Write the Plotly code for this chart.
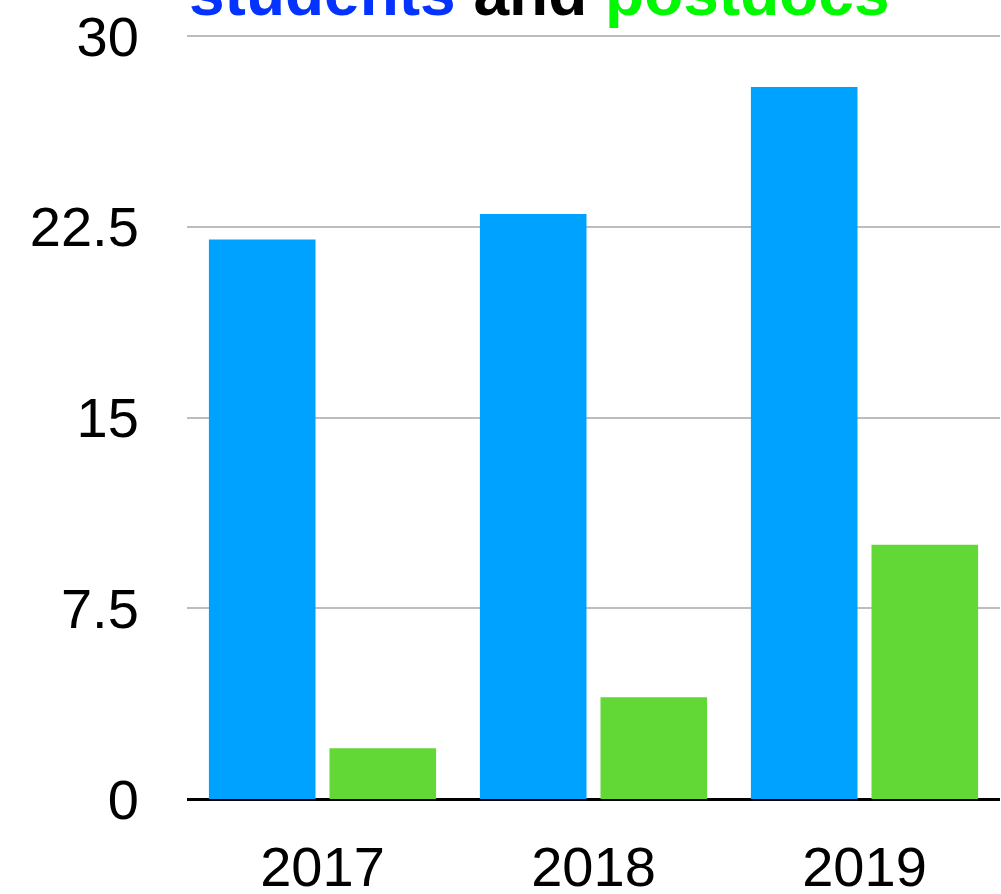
import plotly.graph_objects as go

years = ["2017", "2018", "2019"]
students = [22, 23, 28]
postdocs = [2, 4, 10]
y_tickvals = [0, 7.5, 15, 22.5, 30]
y_ticktext = ["0", "7.5", "15", "22.5", "30"]

FONT = "Helvetica, Arial, Liberation Sans, sans-serif"

fig = go.Figure()
fig.add_trace(go.Bar(x=years, y=students, name="students",
                     marker=dict(color="#00A2FF", line=dict(width=0))))
fig.add_trace(go.Bar(x=years, y=postdocs, name="postdocs",
                     marker=dict(color="#61D836", line=dict(width=0))))

fig.update_layout(
    width=1001, height=894,
    margin=dict(l=187, r=1, t=35, b=95, pad=0),
    paper_bgcolor="white", plot_bgcolor="white",
    barmode="group", bargap=0.11, bargroupgap=0.116,
    showlegend=False,
    font=dict(family=FONT, color="black", size=56),
)
fig.update_xaxes(
    type="category", showgrid=False, showline=False, zeroline=False,
    automargin=False,
    ticks="outside", ticklen=19, tickcolor="rgba(0,0,0,0)",
    tickfont=dict(size=56, family=FONT, color="black"),
)
fig.update_yaxes(
    range=[0, 30.04], tickvals=y_tickvals, ticktext=y_ticktext,
    automargin=False,
    showgrid=True, gridcolor="#BDBDBD", gridwidth=2,
    zeroline=True, zerolinecolor="black", zerolinewidth=3,
    showline=False,
    ticks="outside", ticklen=36, tickcolor="rgba(0,0,0,0)",
    tickfont=dict(size=56, family=FONT, color="black"),
)

fig.add_annotation(
    xref="paper", yref="paper", x=0, y=1, xanchor="left", yanchor="bottom",
    yshift=4, showarrow=False,
    text="<b><span style='color:#0433FF'>students</span> and <span style='color:#00F900'>postdocs</span></b>",
    font=dict(size=64, family=FONT, color="black"),
)

fig.write_html("out.html",
               config={"displayModeBar": False},
               post_script="document.body.style.margin='0';document.body.style.overflow='hidden';")
